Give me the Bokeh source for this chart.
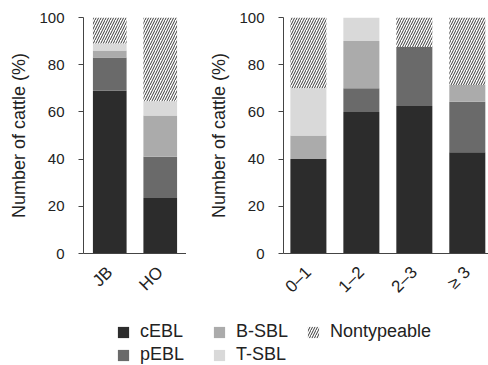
from bokeh.plotting import figure
from bokeh.models import ColumnDataSource, Range1d, FixedTicker, Legend, LegendItem
from bokeh.layouts import column, row
from bokeh.embed import file_html
from bokeh.resources import INLINE
import math

# ---- data ----
series = ["cEBL", "pEBL", "B-SBL", "T-SBL", "Nontypeable"]
colors = ["#2c2c2c", "#6a6a6a", "#ababab", "#d9d9d9", "#ffffff"]
hatches = [" ", " ", " ", " ", "/"]

breed_cats = ["JB", "HO"]
breed_cEBL = [69.0, 23.5]
breed_pEBL = [14.0, 17.5]
breed_BSBL = [3.0, 17.5]
breed_TSBL = [3.0, 6.0]
breed_NT = [11.0, 35.5]

age_cats = ["0\u20131", "1\u20132", "2\u20133", "\u2265 3"]
age_cEBL = [40.0, 60.0, 62.5, 42.9]
age_pEBL = [0.0, 10.0, 25.0, 21.4]
age_BSBL = [10.0, 20.0, 0.0, 7.1]
age_TSBL = [20.0, 10.0, 0.0, 0.0]
age_NT = [30.0, 0.0, 12.5, 28.6]

y_ticks = [0, 20, 40, 60, 80, 100]
y_label = "Number of cattle (%)"

FONT = "Liberation Sans"
TXT = "#222222"
AX = "#444444"
HATCH = dict(hatch_color="#3a3a3a", hatch_scale=5, hatch_weight=1)


def make_panel(cats, vals, width, left_border, x_lo, x_hi, bar_w):
    xs = list(range(len(cats)))
    data = {"x": xs}
    for s, v in zip(series, vals):
        data[s] = v
    src = ColumnDataSource(data)
    p = figure(width=width, height=305, output_backend="svg", toolbar_location=None,
               x_range=Range1d(x_lo, x_hi), y_range=Range1d(0, 100),
               min_border_left=left_border, min_border_right=0,
               min_border_top=17, min_border_bottom=51)
    p.vbar_stack(series, x="x", width=bar_w, source=src, fill_color=colors,
                 line_color=None, hatch_pattern=hatches, **HATCH)
    p.outline_line_color = None
    p.grid.visible = False
    p.background_fill_color = None
    p.border_fill_color = None
    # y axis
    ya = p.yaxis[0]
    ya.ticker = FixedTicker(ticks=y_ticks)
    ya.minor_tick_line_color = None
    ya.major_tick_in = 0
    ya.major_tick_out = 5
    ya.axis_line_color = AX
    ya.major_tick_line_color = AX
    ya.major_label_text_font = FONT
    ya.major_label_text_font_size = "15px"
    ya.major_label_text_color = TXT
    ya.major_label_standoff = 14
    ya.axis_label = y_label
    ya.axis_label_text_font = FONT
    ya.axis_label_text_font_size = "18px"
    ya.axis_label_text_font_style = "normal"
    ya.axis_label_text_color = TXT
    ya.axis_label_standoff = 7
    # x axis
    xa = p.xaxis[0]
    xa.ticker = FixedTicker(ticks=xs)
    xa.major_label_overrides = {i: c for i, c in enumerate(cats)}
    xa.minor_tick_line_color = None
    xa.major_tick_in = 0
    xa.major_tick_out = 0
    xa.axis_line_color = AX
    xa.major_label_orientation = math.pi / 4
    xa.major_label_text_font = FONT
    xa.major_label_text_font_size = "17px"
    xa.major_label_text_color = TXT
    xa.major_label_standoff = 16
    return p


p1 = make_panel(breed_cats, [breed_cEBL, breed_pEBL, breed_BSBL, breed_TSBL, breed_NT],
                186, 83, -0.52, 1.52, 0.667)
p2 = make_panel(age_cats, [age_cEBL, age_pEBL, age_BSBL, age_TSBL, age_NT],
                302, 97, -0.47, 3.40, 0.68)

# legend panel (dummy zero-height bars only feed the legend glyphs)
p3 = figure(width=488, height=60, output_backend="svg", toolbar_location=None,
            x_range=Range1d(0, 1), y_range=Range1d(0, 1),
            x_axis_type=None, y_axis_type=None,
            min_border_left=0, min_border_right=0, min_border_top=0, min_border_bottom=0)
p3.outline_line_color = None
p3.grid.visible = False
renderers = []
for s, c, h in zip(series, colors, hatches):
    r = p3.vbar(x=[0.5], top=[0], bottom=[0], width=0.0, fill_color=c, line_color=None,
                hatch_pattern=h, **HATCH)
    renderers.append(r)

legend_cols = [(0, 2, 116, 0), (2, 4, 212, 0), (4, 5, 306, 23)]
for a, b, xpos, ypos in legend_cols:
    its = [LegendItem(label=series[i], renderers=[renderers[i]]) for i in range(a, b)]
    leg = Legend(items=its, orientation="vertical", location=(xpos, ypos),
                 padding=0, margin=0, spacing=2,
                 glyph_width=14, glyph_height=14, label_standoff=10,
                 label_text_font=FONT, label_text_font_size="18px",
                 label_text_color=TXT, border_line_color=None,
                 background_fill_alpha=0)
    p3.add_layout(leg, "center")

layout = column(row(p1, p2), p3)
open("out.html", "w").write(file_html(layout, INLINE))
